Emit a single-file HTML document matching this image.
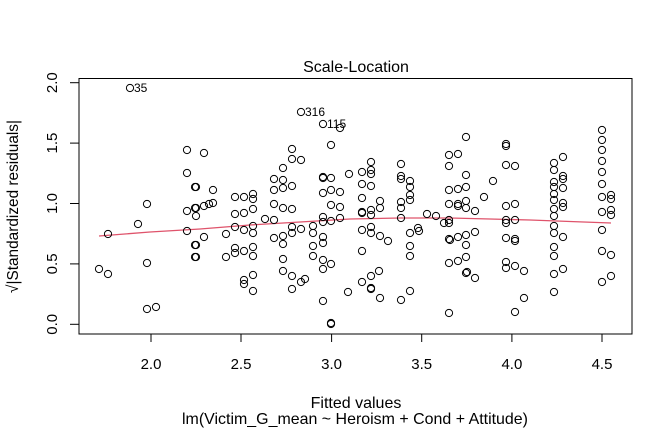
<!DOCTYPE html>
<html><head><meta charset="utf-8"><style>html,body{margin:0;padding:0;background:#fff}svg{display:block}</style></head>
<body>
<svg width="672" height="432" viewBox="0 0 672 432" xmlns="http://www.w3.org/2000/svg" font-family="Liberation Sans, sans-serif">
<rect width="672" height="432" fill="#fff"/>
<rect x="79" y="78.5" width="553" height="255.5" fill="none" stroke="#000" stroke-width="1"/>
<g stroke="#000" stroke-width="1">
<line x1="151" y1="334" x2="151" y2="342"/><line x1="241" y1="334" x2="241" y2="342"/><line x1="331.6" y1="334" x2="331.6" y2="342"/><line x1="421.7" y1="334" x2="421.7" y2="342"/><line x1="511.9" y1="334" x2="511.9" y2="342"/><line x1="602" y1="334" x2="602" y2="342"/>
<line x1="70" y1="324.3" x2="79" y2="324.3"/><line x1="70" y1="263.9" x2="79" y2="263.9"/><line x1="70" y1="203.5" x2="79" y2="203.5"/><line x1="70" y1="143.1" x2="79" y2="143.1"/><line x1="70" y1="82.7" x2="79" y2="82.7"/>
</g>
<g font-size="15" text-anchor="middle" fill="#000">
<text x="151" y="369">2.0</text><text x="241" y="369">2.5</text><text x="331.6" y="369">3.0</text><text x="421.7" y="369">3.5</text><text x="511.9" y="369">4.0</text><text x="602" y="369">4.5</text>
<text transform="translate(57,324.3) rotate(-90)">0.0</text><text transform="translate(57,263.9) rotate(-90)">0.5</text><text transform="translate(57,203.5) rotate(-90)">1.0</text><text transform="translate(57,143.1) rotate(-90)">1.5</text><text transform="translate(57,82.7) rotate(-90)">2.0</text>
</g>
<g font-size="16" text-anchor="middle" fill="#000">
<text x="356" y="72">Scale-Location</text>
<text x="356" y="408">Fitted values</text>
<text x="355" y="424" textLength="346" lengthAdjust="spacingAndGlyphs">lm(Victim_G_mean ~ Heroism + Cond + Attitude)</text>
<text transform="translate(18,206.5) rotate(-90)" textLength="173" lengthAdjust="spacingAndGlyphs">√|Standardized residuals|</text>
</g>
<g font-size="12" fill="#000">
<text x="134" y="92">35</text><text x="305" y="116">316</text><text x="327" y="128">115</text>
</g>
<polyline points="99,236 150,232 200,229 250,225 300,222 350,219 400,218 450,218 490,219 530,220 570,221.5 611,223" fill="none" stroke="#df536b" stroke-width="1.3"/>
<g fill="none" stroke="#000" stroke-width="1">
<circle cx="99" cy="269" r="3.6"/><circle cx="108" cy="274" r="3.6"/><circle cx="108" cy="234" r="3.6"/><circle cx="138" cy="224" r="3.6"/><circle cx="147" cy="204" r="3.6"/><circle cx="147" cy="263" r="3.6"/><circle cx="147" cy="309" r="3.6"/><circle cx="156" cy="307" r="3.6"/><circle cx="130" cy="88" r="3.6"/><circle cx="187" cy="150" r="3.6"/><circle cx="187" cy="173" r="3.6"/><circle cx="196" cy="187" r="3.6"/><circle cx="187" cy="211" r="3.6"/><circle cx="196" cy="208" r="3.6"/><circle cx="196" cy="216" r="3.6"/><circle cx="187" cy="231" r="3.6"/><circle cx="196" cy="245" r="3.6"/><circle cx="196" cy="257" r="3.6"/>
<circle cx="204" cy="153" r="3.6"/><circle cx="195" cy="187" r="3.6"/><circle cx="213" cy="190" r="3.6"/><circle cx="195" cy="208" r="3.6"/><circle cx="204" cy="206" r="3.6"/><circle cx="209" cy="204" r="3.6"/><circle cx="213" cy="203" r="3.6"/><circle cx="195" cy="245" r="3.6"/><circle cx="204" cy="237" r="3.6"/><circle cx="195" cy="257" r="3.6"/>
<circle cx="235" cy="197" r="3.6"/><circle cx="235" cy="214" r="3.6"/><circle cx="244" cy="197" r="3.6"/><circle cx="244" cy="213" r="3.6"/><circle cx="253" cy="194" r="3.6"/><circle cx="253" cy="199" r="3.6"/><circle cx="253" cy="209" r="3.6"/><circle cx="235" cy="227" r="3.6"/><circle cx="244" cy="230" r="3.6"/><circle cx="253" cy="226" r="3.6"/><circle cx="253" cy="233" r="3.6"/><circle cx="226" cy="234" r="3.6"/><circle cx="226" cy="257" r="3.6"/><circle cx="235" cy="248" r="3.6"/><circle cx="235" cy="253" r="3.6"/><circle cx="244" cy="251" r="3.6"/><circle cx="253" cy="247" r="3.6"/><circle cx="253" cy="256" r="3.6"/><circle cx="244" cy="280" r="3.6"/><circle cx="244" cy="284" r="3.6"/><circle cx="253" cy="275" r="3.6"/><circle cx="253" cy="291" r="3.6"/>
<circle cx="265" cy="219" r="3.6"/><circle cx="274" cy="220" r="3.6"/><circle cx="274" cy="179" r="3.6"/><circle cx="274" cy="190" r="3.6"/><circle cx="274" cy="204" r="3.6"/><circle cx="274" cy="238" r="3.6"/><circle cx="283" cy="168" r="3.6"/><circle cx="283" cy="180" r="3.6"/><circle cx="283" cy="188" r="3.6"/><circle cx="283" cy="208" r="3.6"/><circle cx="283" cy="236" r="3.6"/><circle cx="283" cy="244" r="3.6"/><circle cx="283" cy="259" r="3.6"/><circle cx="283" cy="271" r="3.6"/><circle cx="292" cy="149" r="3.6"/><circle cx="292" cy="159" r="3.6"/><circle cx="301" cy="160" r="3.6"/><circle cx="292" cy="186" r="3.6"/><circle cx="292" cy="209" r="3.6"/><circle cx="292" cy="227" r="3.6"/><circle cx="292" cy="233" r="3.6"/><circle cx="301" cy="229" r="3.6"/><circle cx="292" cy="276" r="3.6"/><circle cx="292" cy="289" r="3.6"/><circle cx="301" cy="282" r="3.6"/><circle cx="305" cy="279" r="3.6"/><circle cx="301" cy="112" r="3.6"/><circle cx="323" cy="124" r="3.6"/>
<circle cx="313" cy="226" r="3.6"/><circle cx="313" cy="233" r="3.6"/><circle cx="313" cy="246" r="3.6"/><circle cx="313" cy="256" r="3.6"/><circle cx="323" cy="178" r="3.6"/><circle cx="323" cy="193" r="3.6"/><circle cx="323" cy="217" r="3.6"/><circle cx="323" cy="222" r="3.6"/><circle cx="323" cy="237" r="3.6"/><circle cx="323" cy="243" r="3.6"/><circle cx="323" cy="260" r="3.6"/><circle cx="323" cy="269" r="3.6"/><circle cx="323" cy="301" r="3.6"/>
<circle cx="340" cy="128" r="3.6"/><circle cx="331" cy="145" r="3.6"/><circle cx="331" cy="178" r="3.6"/><circle cx="323" cy="177" r="3.6"/><circle cx="331" cy="190" r="3.6"/><circle cx="340" cy="192" r="3.6"/><circle cx="331" cy="205" r="3.6"/><circle cx="340" cy="207" r="3.6"/><circle cx="331" cy="221" r="3.6"/><circle cx="340" cy="218" r="3.6"/><circle cx="331" cy="264" r="3.6"/><circle cx="331" cy="324" r="3.6"/><circle cx="331" cy="323" r="3.6"/><circle cx="349" cy="174" r="3.6"/><circle cx="348" cy="292" r="3.6"/>
<circle cx="362" cy="172" r="3.6"/><circle cx="371" cy="162" r="3.6"/><circle cx="371" cy="170" r="3.6"/><circle cx="371" cy="174" r="3.6"/><circle cx="362" cy="184" r="3.6"/><circle cx="371" cy="186" r="3.6"/><circle cx="362" cy="198" r="3.6"/><circle cx="362" cy="212" r="3.6"/><circle cx="362" cy="213" r="3.6"/><circle cx="371" cy="210" r="3.6"/><circle cx="371" cy="215" r="3.6"/><circle cx="380" cy="201" r="3.6"/><circle cx="380" cy="208" r="3.6"/><circle cx="371" cy="227" r="3.6"/><circle cx="371" cy="233" r="3.6"/><circle cx="362" cy="230" r="3.6"/><circle cx="380" cy="236" r="3.6"/><circle cx="388" cy="241" r="3.6"/><circle cx="362" cy="251" r="3.6"/><circle cx="371" cy="276" r="3.6"/><circle cx="379" cy="271" r="3.6"/><circle cx="362" cy="282" r="3.6"/><circle cx="371" cy="288" r="3.6"/><circle cx="371" cy="289" r="3.6"/><circle cx="380" cy="298" r="3.6"/>
<circle cx="401" cy="164" r="3.6"/><circle cx="401" cy="176" r="3.6"/><circle cx="401" cy="179" r="3.6"/><circle cx="410" cy="181" r="3.6"/><circle cx="410" cy="187" r="3.6"/><circle cx="410" cy="195" r="3.6"/><circle cx="410" cy="200" r="3.6"/><circle cx="401" cy="202" r="3.6"/><circle cx="401" cy="208" r="3.6"/><circle cx="401" cy="218" r="3.6"/><circle cx="418" cy="228" r="3.6"/><circle cx="419" cy="231" r="3.6"/><circle cx="410" cy="233" r="3.6"/><circle cx="410" cy="246" r="3.6"/><circle cx="410" cy="256" r="3.6"/><circle cx="410" cy="291" r="3.6"/><circle cx="401" cy="300" r="3.6"/><circle cx="427" cy="214" r="3.6"/><circle cx="436" cy="216" r="3.6"/><circle cx="444" cy="223" r="3.6"/>
<circle cx="449" cy="155" r="3.6"/><circle cx="458" cy="154" r="3.6"/><circle cx="449" cy="166" r="3.6"/><circle cx="449" cy="190" r="3.6"/><circle cx="458" cy="189" r="3.6"/><circle cx="449" cy="204" r="3.6"/><circle cx="458" cy="204" r="3.6"/><circle cx="458" cy="206" r="3.6"/><circle cx="449" cy="220" r="3.6"/><circle cx="449" cy="223" r="3.6"/><circle cx="449" cy="239" r="3.6"/><circle cx="458" cy="237" r="3.6"/><circle cx="449" cy="263" r="3.6"/><circle cx="458" cy="261" r="3.6"/><circle cx="449" cy="313" r="3.6"/><circle cx="466" cy="137" r="3.6"/><circle cx="466" cy="175" r="3.6"/><circle cx="466" cy="187" r="3.6"/><circle cx="466" cy="201" r="3.6"/><circle cx="466" cy="208" r="3.6"/><circle cx="466" cy="235" r="3.6"/><circle cx="466" cy="245" r="3.6"/><circle cx="466" cy="257" r="3.6"/><circle cx="466" cy="273" r="3.6"/>
<circle cx="475" cy="211" r="3.6"/><circle cx="484" cy="197" r="3.6"/><circle cx="493" cy="181" r="3.6"/><circle cx="450" cy="240" r="3.6"/><circle cx="475" cy="232" r="3.6"/><circle cx="467" cy="272" r="3.6"/><circle cx="475" cy="278" r="3.6"/>
<circle cx="506" cy="144" r="3.6"/><circle cx="506" cy="146" r="3.6"/><circle cx="506" cy="165" r="3.6"/><circle cx="515" cy="166" r="3.6"/><circle cx="506" cy="206" r="3.6"/><circle cx="515" cy="204" r="3.6"/><circle cx="506" cy="220" r="3.6"/><circle cx="506" cy="223" r="3.6"/><circle cx="515" cy="220" r="3.6"/><circle cx="506" cy="238" r="3.6"/><circle cx="515" cy="239" r="3.6"/><circle cx="515" cy="241" r="3.6"/><circle cx="506" cy="262" r="3.6"/><circle cx="506" cy="268" r="3.6"/><circle cx="515" cy="266" r="3.6"/><circle cx="524" cy="271" r="3.6"/><circle cx="524" cy="298" r="3.6"/><circle cx="515" cy="312" r="3.6"/>
<circle cx="554" cy="163" r="3.6"/><circle cx="554" cy="170" r="3.6"/><circle cx="563" cy="157" r="3.6"/><circle cx="554" cy="182" r="3.6"/><circle cx="554" cy="187" r="3.6"/><circle cx="563" cy="176" r="3.6"/><circle cx="563" cy="179" r="3.6"/><circle cx="563" cy="188" r="3.6"/><circle cx="554" cy="194" r="3.6"/><circle cx="554" cy="200" r="3.6"/><circle cx="563" cy="203" r="3.6"/><circle cx="563" cy="207" r="3.6"/><circle cx="554" cy="209" r="3.6"/><circle cx="554" cy="216" r="3.6"/><circle cx="554" cy="226" r="3.6"/><circle cx="554" cy="233" r="3.6"/><circle cx="563" cy="237" r="3.6"/><circle cx="554" cy="247" r="3.6"/><circle cx="554" cy="256" r="3.6"/><circle cx="554" cy="274" r="3.6"/><circle cx="563" cy="269" r="3.6"/><circle cx="554" cy="292" r="3.6"/>
<circle cx="602" cy="130" r="3.6"/><circle cx="602" cy="140" r="3.6"/><circle cx="602" cy="150" r="3.6"/><circle cx="602" cy="161" r="3.6"/><circle cx="602" cy="172" r="3.6"/><circle cx="602" cy="184" r="3.6"/><circle cx="602" cy="197" r="3.6"/><circle cx="611" cy="195" r="3.6"/><circle cx="611" cy="199" r="3.6"/><circle cx="602" cy="212" r="3.6"/><circle cx="611" cy="210" r="3.6"/><circle cx="611" cy="215" r="3.6"/><circle cx="602" cy="230" r="3.6"/><circle cx="602" cy="251" r="3.6"/><circle cx="611" cy="255" r="3.6"/><circle cx="602" cy="282" r="3.6"/><circle cx="611" cy="276" r="3.6"/>
</g>
</svg>
</body></html>
